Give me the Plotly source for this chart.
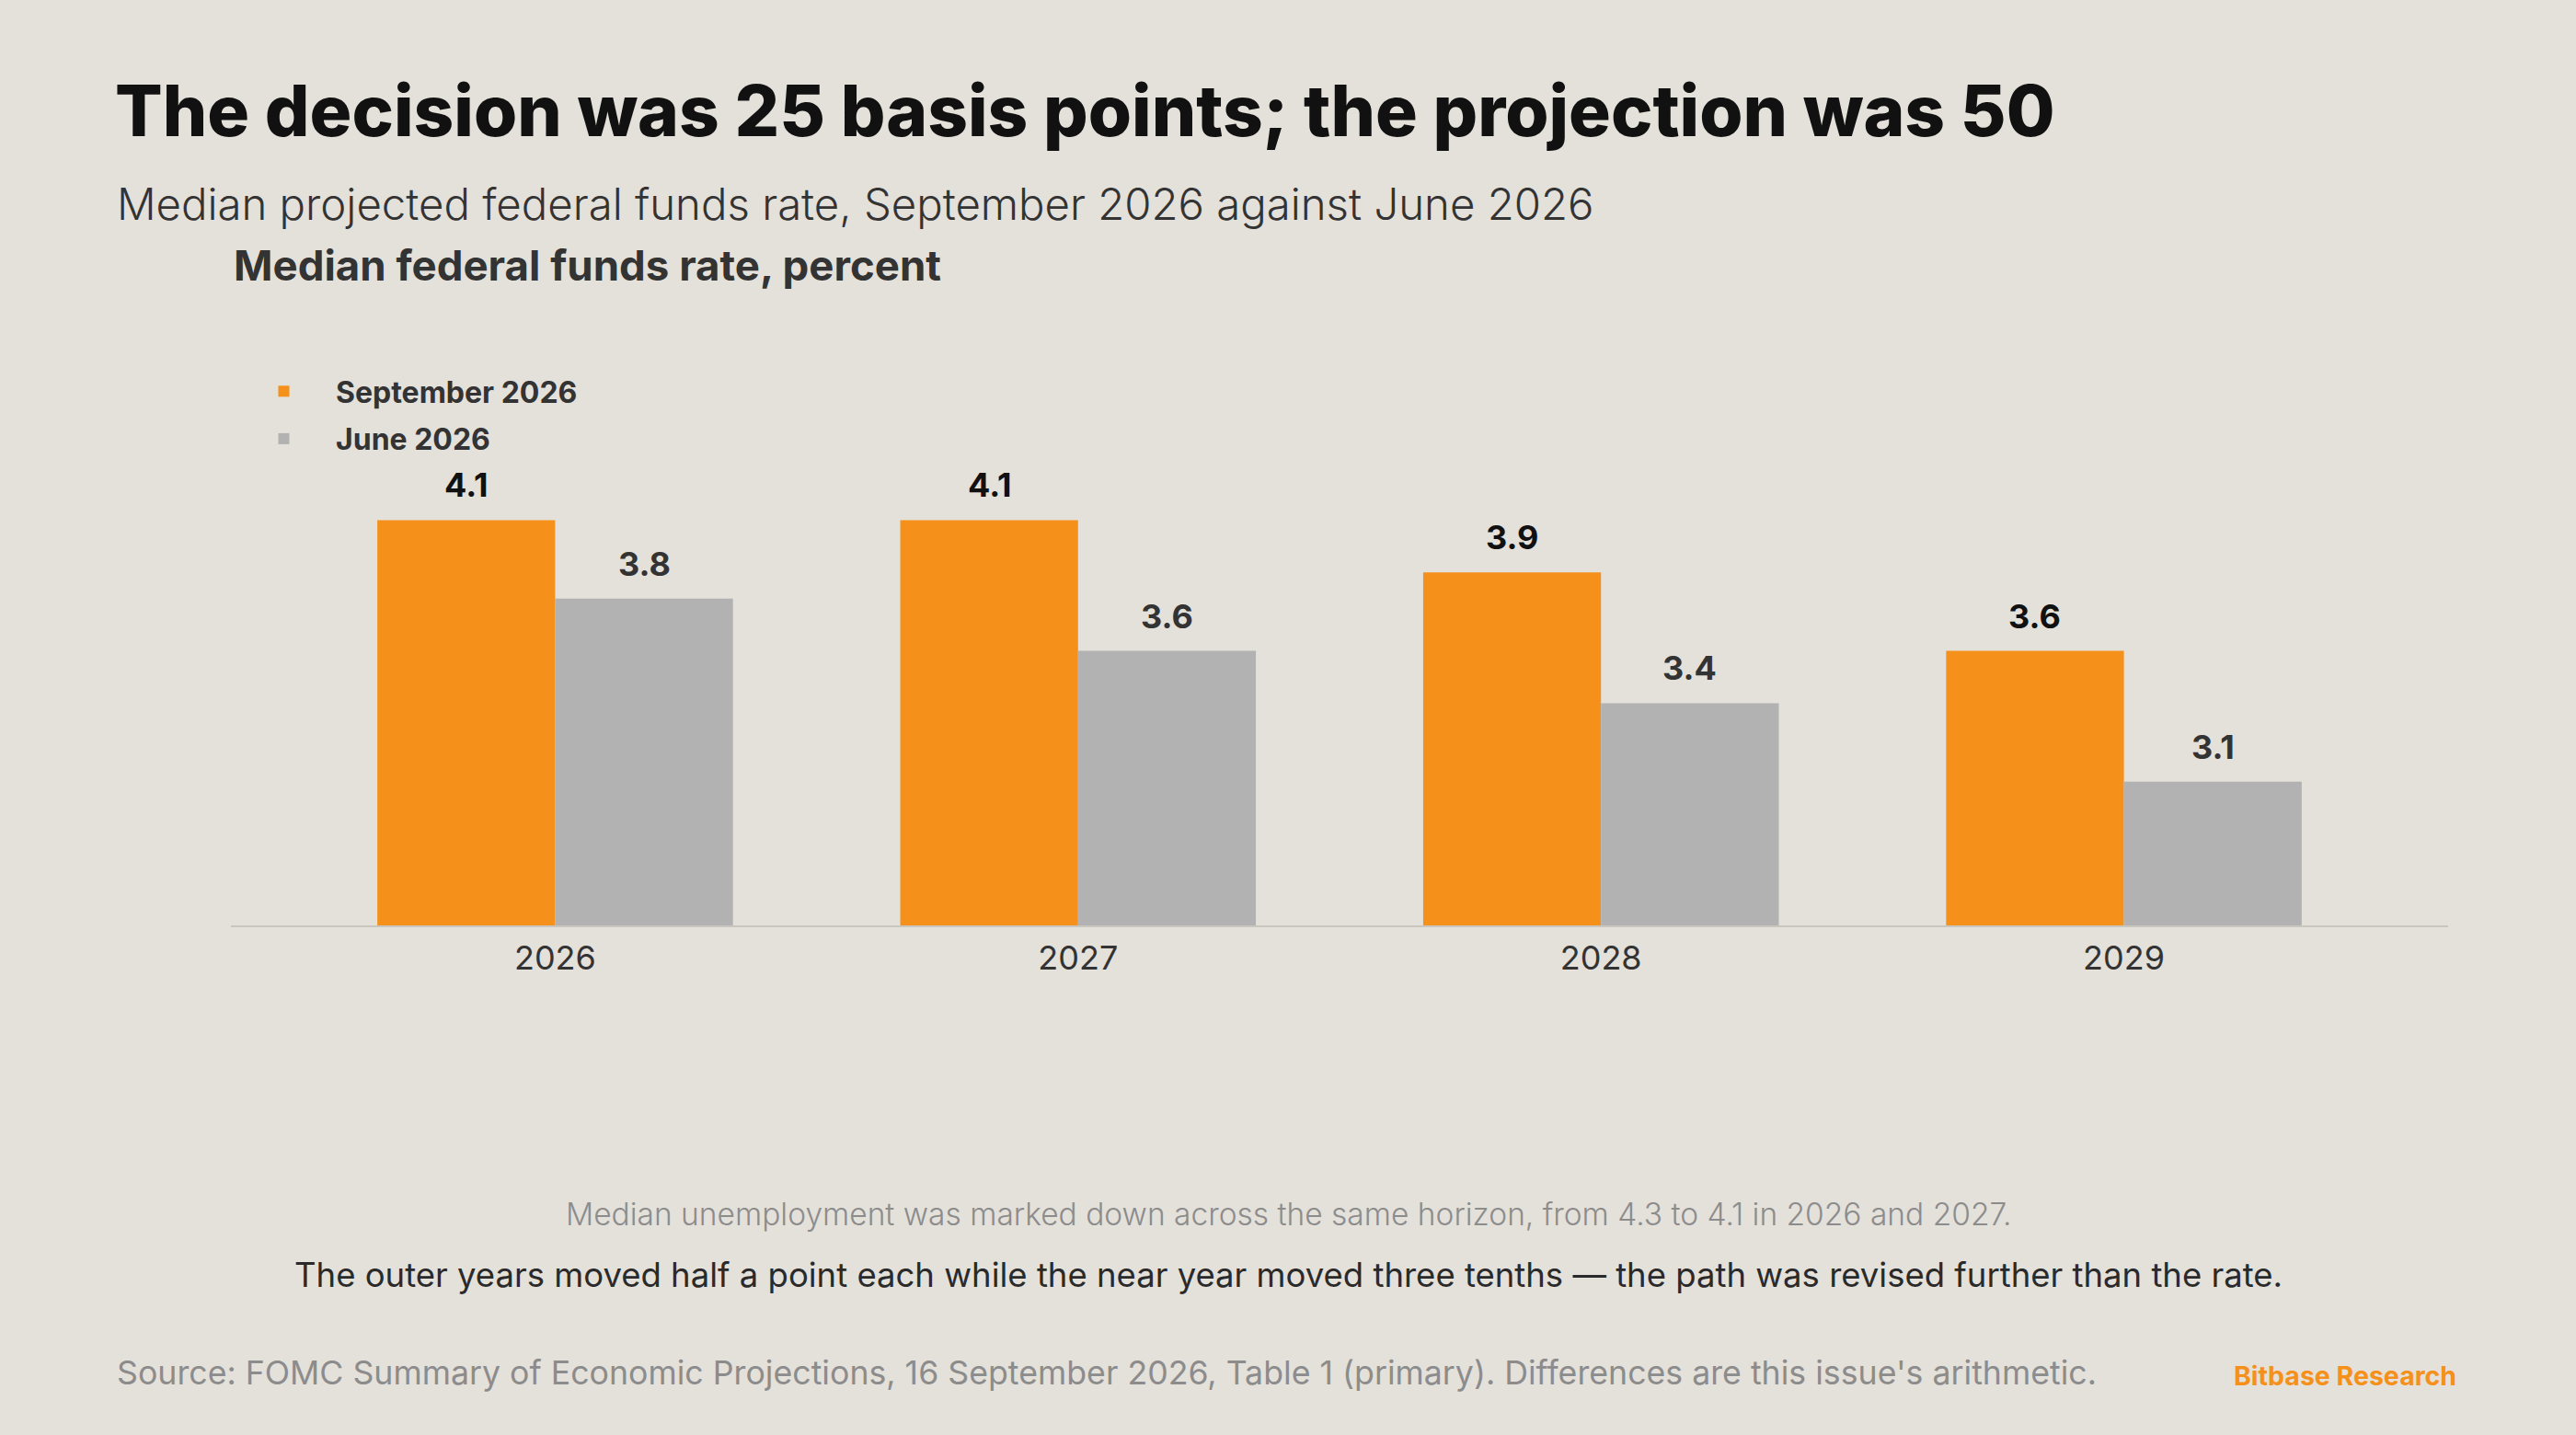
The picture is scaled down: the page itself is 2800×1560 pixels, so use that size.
import plotly.graph_objects as go

years = ["2026", "2027", "2028", "2029"]
september_2026 = [4.1, 4.1, 3.9, 3.6]
june_2026 = [3.8, 3.6, 3.4, 3.1]

FONT = "Inter"
BG = "#E4E0DA"
ORANGE = "#F5911A"
GREY = "#B2B2B2"

W, H = 2800, 1560
L, R, T, B = 251, 139, 466, 554
PW, PH = W - L - R, H - T - B
BARGAP = 0.32


def px(x):
    return (x - L) / PW


def py(y):
    return (H - B - y) / PH


fig = go.Figure()
fig.add_trace(go.Bar(x=years, y=september_2026, name="September 2026", legendgroup="sep",
                     marker=dict(color=ORANGE, line=dict(width=0)), hoverinfo="skip"))
fig.add_trace(go.Bar(x=years, y=june_2026, name="June 2026", legendgroup="jun",
                     marker=dict(color=GREY, line=dict(width=0)), hoverinfo="skip"))

# value labels above each bar
half = (1 - BARGAP) / 4
annotations = []
for series, shift, colour in [(september_2026, -half, "#111111"), (june_2026, half, "#333333")]:
    for i, v in enumerate(series):
        annotations.append(dict(x=i + shift, y=v, xref="x", yref="y", text=f"{v:.1f}",
                                showarrow=False, yanchor="middle", yshift=38,
                                font=dict(family=FONT, size=36, color=colour, weight=700)))

texts = [
    ("Median projected federal funds rate, September 2026 against June 2026", 125, 221.5, "left",
     dict(size=47.3, color="#333333", weight=300)),
    ("Median federal funds rate, percent", 252, 288.5, "left",
     dict(size=45.6, color="#333333", weight=700)),
    ("Median unemployment was marked down across the same horizon, from 4.3 to 4.1 in 2026 and 2027.",
     1400, 1319.5, "center", dict(size=33.5, color="#8C8C8C", weight=300)),
    ("The outer years moved half a point each while the near year moved three tenths \u2014 "
     "the path was revised further than the rate.", 1400, 1386, "center",
     dict(size=36.5, color="#2A2A2A", weight=400)),
    ("Source: FOMC Summary of Economic Projections, 16 September 2026, Table 1 (primary). "
     "Differences are this issue's arithmetic.", 125, 1492, "left",
     dict(size=35.7, color="#8C8C8C", weight=400)),
    ("Bitbase Research", 2672, 1495.5, "right", dict(size=28.5, color=ORANGE, weight=700)),
]
for text, x, y, anchor, font in texts:
    annotations.append(dict(x=px(x), y=py(y), xref="paper", yref="paper", text=text,
                            showarrow=False, xanchor=anchor, yanchor="middle",
                            font=dict(family=FONT, **font)))

fig.update_layout(
    width=W, height=H,
    margin=dict(l=L, r=R, t=T, b=B, pad=0),
    paper_bgcolor=BG, plot_bgcolor=BG,
    barmode="group", bargap=BARGAP, bargroupgap=0,
    font=dict(family=FONT, color="#333333"),
    title=dict(text="The decision was 25 basis points; the projection was 50",
               x=125 / W, xanchor="left", xref="container",
               y=1 - 121 / H, yanchor="middle", yref="container",
               font=dict(family=FONT, size=76.4, color="#111111", weight=800)),
    showlegend=True,
    legend=dict(x=px(252), y=py(398), xanchor="left", yanchor="top", itemwidth=103,
                tracegroupgap=7,
                bgcolor="rgba(0,0,0,0)", font=dict(family=FONT, size=32, color="#333333", weight=700),
                itemclick=False, itemdoubleclick=False),
    xaxis=dict(type="category", range=[-0.62, len(years) - 1 + 0.62], showline=True,
               linecolor="#C9C5BF", linewidth=2, showgrid=False, zeroline=False, ticks="",
               ticklabelstandoff=3, tickfont=dict(family=FONT, size=36, color="#333333")),
    yaxis=dict(range=[2.55, 4.45], visible=False, showgrid=False, zeroline=False),
    annotations=annotations,
)

fig.write_html("out.html", config={"displayModeBar": False},
               post_script="document.body.style.margin = '0';")
